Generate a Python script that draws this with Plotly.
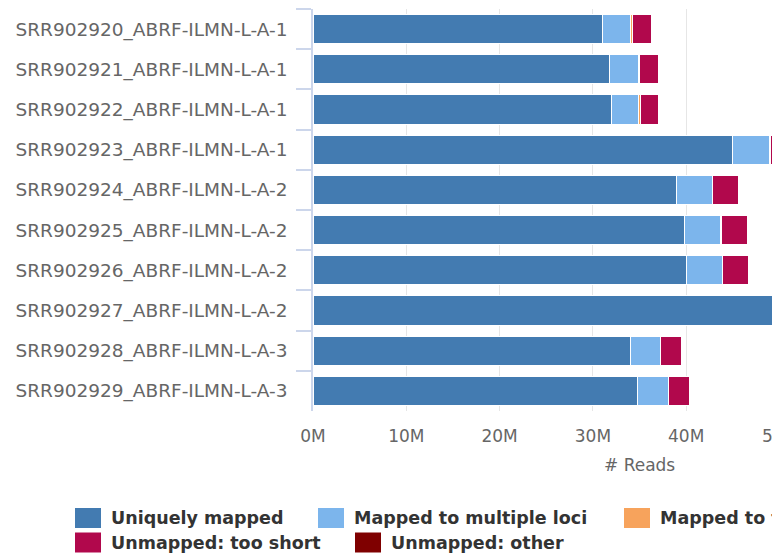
import plotly.graph_objects as go

samples = [
    "SRR902920_ABRF-ILMN-L-A-1",
    "SRR902921_ABRF-ILMN-L-A-1",
    "SRR902922_ABRF-ILMN-L-A-1",
    "SRR902923_ABRF-ILMN-L-A-1",
    "SRR902924_ABRF-ILMN-L-A-2",
    "SRR902925_ABRF-ILMN-L-A-2",
    "SRR902926_ABRF-ILMN-L-A-2",
    "SRR902927_ABRF-ILMN-L-A-2",
    "SRR902928_ABRF-ILMN-L-A-3",
    "SRR902929_ABRF-ILMN-L-A-3",
]

# values in millions of reads
uniquely_mapped = [31.07, 31.79, 31.97, 44.94, 38.97, 39.83, 40.04, 51.0, 34.04, 34.79]
multiple_loci = [3.00, 3.15, 2.96, 4.00, 3.86, 3.86, 3.86, 4.60, 3.18, 3.29]
too_many_loci = [0.14, 0.02, 0.18, 0.10, 0.03, 0.05, 0.03, 0.10, 0.05, 0.05]
too_short = [2.11, 2.10, 1.92, 2.60, 2.79, 2.83, 2.79, 3.00, 2.25, 2.25]
unmapped_other = [0.05, 0.05, 0.05, 0.05, 0.05, 0.05, 0.05, 0.05, 0.05, 0.05]

series_names = [
    "Uniquely mapped",
    "Mapped to multiple loci",
    "Mapped to too many loci",
    "Unmapped: too short",
    "Unmapped: other",
]
series_values = [uniquely_mapped, multiple_loci, too_many_loci, too_short, unmapped_other]
series_colors = ["#437bb1", "#7cb5ec", "#f7a35c", "#b1084c", "#7f0000"]

x_tick_vals = [0, 10, 20, 30, 40, 50]
x_tick_text = ["0M", "10M", "20M", "30M", "40M", "50M"]
x_title = "# Reads"

FONT = "DejaVu Sans"
W, H = 772, 556
L, R, T, B = 313, 0, 9, 145
PW = W - L - R
PH = H - T - B
X_MAX = PW / 9.33

fig = go.Figure()
for name, vals, col in zip(series_names, series_values, series_colors):
    fig.add_trace(go.Bar(
        y=samples, x=vals, name=name, orientation="h",
        marker=dict(color=col, line=dict(color="white", width=1)),
        showlegend=False,
    ))


def px_x(sx):
    return (sx - L) / PW


def px_y(sy):
    return (H - B - sy) / PH


annotations = []
shapes = []

# axis title
annotations.append(dict(
    x=px_x(639), y=px_y(465), xref="paper", yref="paper",
    text=x_title, showarrow=False, xanchor="center", yanchor="middle",
    font=dict(family=FONT, size=17, color="#666666"),
))
# partially visible last tick label
annotations.append(dict(
    x=x_tick_vals[-1] / X_MAX, y=px_y(435.5), xref="paper", yref="paper",
    text=x_tick_text[-1], showarrow=False, xanchor="center", yanchor="middle",
    font=dict(family=FONT, size=17, color="#666666"),
))

# legend (two rows, flowing layout)
legend_pos = [(75, 518), (318, 518), (624, 518), (75, 542.5), (355, 542.5)]
for (lx, ly), name, col in zip(legend_pos, series_names, series_colors):
    shapes.append(dict(
        type="rect", xref="paper", yref="paper",
        x0=px_x(lx), x1=px_x(lx + 26), y0=px_y(ly - 10), y1=px_y(ly + 10),
        fillcolor=col, line=dict(width=0), layer="above",
    ))
    annotations.append(dict(
        x=px_x(lx + 34), y=px_y(ly), xref="paper", yref="paper",
        text="<b>" + name + "</b>", showarrow=False,
        xanchor="left", yanchor="middle",
        font=dict(family=FONT, size=17.5, color="#333333"),
    ))

fig.update_layout(
    width=W, height=H,
    margin=dict(l=L, r=R, t=T, b=B, pad=0),
    barmode="stack", bargap=0.27,
    plot_bgcolor="white", paper_bgcolor="white",
    showlegend=False,
    annotations=annotations, shapes=shapes,
    xaxis=dict(
        range=[0, X_MAX], tickvals=x_tick_vals, ticktext=x_tick_text,
        showgrid=True, gridcolor="#e6e6e6", gridwidth=1,
        zeroline=False, showline=False, ticks="",
        tickfont=dict(family=FONT, size=17, color="#666666"),
        ticklabelstandoff=13,
    ),
    yaxis=dict(
        autorange="reversed", type="category",
        showline=True, linecolor="#ccd6eb", linewidth=1.5,
        ticks="outside", tickson="boundaries", ticklen=15, tickcolor="#ccd6eb",
        tickwidth=1.5, showgrid=False, zeroline=False,
        tickfont=dict(family=FONT, size=18.5, color="#666666"),
        ticklabelstandoff=20,
    ),
)

fig.write_html(
    "out.html",
    config={"displayModeBar": False},
    post_script="document.body.style.margin='0';document.body.style.overflow='hidden';",
)
